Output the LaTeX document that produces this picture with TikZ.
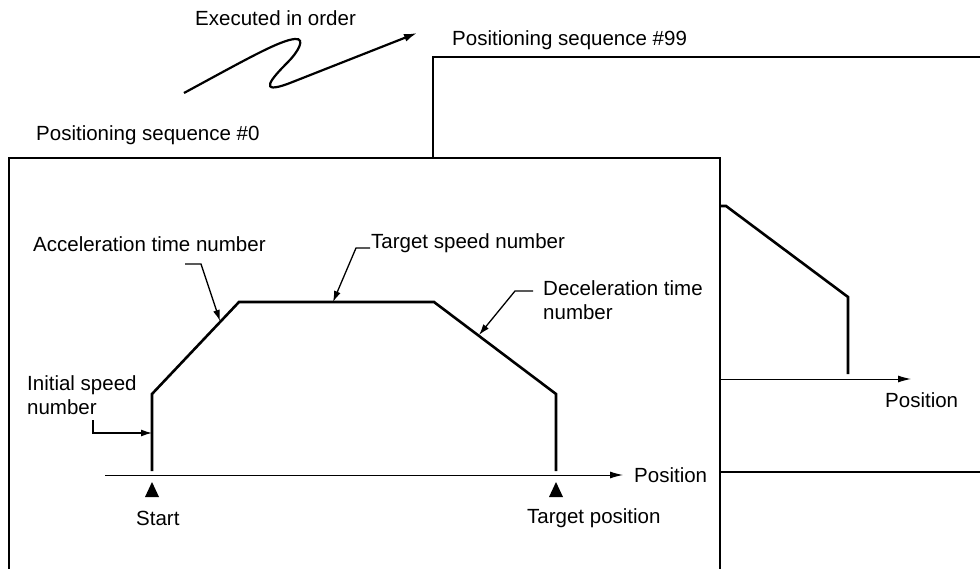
\documentclass[tikz,border=0pt]{standalone}
\usepackage{fontspec}
\setmainfont{Liberation Sans}
\usetikzlibrary{positioning,arrows.meta}
\tikzset{
  txt/.style       = {inner sep=0pt, anchor=west, align=left,
                      font=\fontsize{20.5}{24}\selectfont},
  profile/.style   = {line width=2.6pt, line join=miter},
  frame/.style     = {line width=1.2pt},
  backframe/.style = {line width=2.4pt},
  axis/.style      = {line width=1pt, -{Latex[length=13pt,width=7pt]}},
  leader/.style    = {line width=1.3pt, -{Latex[length=11pt,width=7pt]}},
  marker/.style    = {fill=black}
}
\begin{document}
\begin{tikzpicture}[x=1pt, y=-1pt]
  \useasboundingbox (0,0) rectangle (980,569);

  % order arrow
  \node [txt] (order) at (195,18) {Executed in order};
  \coordinate (z0) at (184,93);
  \coordinate (z1) at (295,39);
  \coordinate (z2) at (288,62);
  \coordinate (z3) at (290,83);
  \coordinate (z4) at (417,33);
  \draw [line width=2.2pt, -{Latex[length=13pt,width=8pt]}]
    (z0) .. controls (245,60) and (280,40) .. (z1)
         .. controls (306,38) and (298,52) .. (z2)
         .. controls (272,78) and (256,96) .. (z3) -- (z4);

  % sequence #99 (behind)
  \node [txt] (seq99) at (452,40) {Positioning sequence \#99};
  \draw [backframe] (433,158) -- (433,57) -- (980,57);
  \coordinate (q0) at (720,206);
  \coordinate (q1) at (726,206);
  \coordinate (q2) at (848,297);
  \coordinate (q3) at (848,374);
  \draw [profile] (q0) -- (q1) -- (q2) -- (q3);
  \coordinate (ax99a) at (720,379);
  \coordinate (ax99b) at (911,379);
  \draw [axis] (ax99a) -- (ax99b);
  \node [txt] (pos99) at (885,400) {Position};
  \draw [frame] (720,472) -- (980,472);

  % sequence #0 (front)
  \node [txt] (seq0) at (36,135) {Positioning sequence \#0};
  \draw [frame] (9,569) -- (9,158) -- (720,158) -- (720,569);

  \coordinate (p0) at (152,471);
  \coordinate (p1) at (152,394);
  \coordinate (p2) at (239,302);
  \coordinate (p3) at (434,302);
  \coordinate (p4) at (556,394);
  \coordinate (p5) at (556,471);
  \draw [profile] (p0) -- (p1) -- (p2) -- (p3) -- (p4) -- (p5);

  \coordinate (ax0a) at (105,475);
  \coordinate (ax0b) at (623,475);
  \draw [axis] (ax0a) -- (ax0b);
  \node [txt] (pos0) at (634,475) {Position};

  % start / target markers
  \fill [marker] (152,482) -- (159,497) -- (145,497) -- cycle;
  \fill [marker] (556,482) -- (563,497) -- (549,497) -- cycle;
  \node [txt] (start) at (136,518) {Start};
  \node [txt] (target) at (527,518) {Target position};

  % labels with leaders
  \node [txt] (acc) at (33,244) {Acceleration time number};
  \coordinate (acc1) at (185,264);
  \coordinate (acc2) at (201,264);
  \coordinate (acc3) at (220,321);
  \draw [leader] (acc1) -- (acc2) -- (acc3);

  \node [txt] (init) at (27,395) {Initial speed\\number};
  \coordinate (init1) at (93,420);
  \coordinate (init2) at (93,433);
  \coordinate (init3) at (152,433);
  \draw [leader] (init1) -- (init2) -- (init3);

  \node [txt] (tgt) at (371,243) {Target speed number};
  \coordinate (tgt1) at (370,248);
  \coordinate (tgt2) at (356,248);
  \coordinate (tgt3) at (333,302);
  \draw [leader] (tgt1) -- (tgt2) -- (tgt3);

  \node [txt] (dec) at (543,300) {Deceleration time\\number};
  \coordinate (dec1) at (533,291);
  \coordinate (dec2) at (515,291);
  \coordinate (dec3) at (479,335);
  \draw [leader] (dec1) -- (dec2) -- (dec3);
\end{tikzpicture}
\end{document}
